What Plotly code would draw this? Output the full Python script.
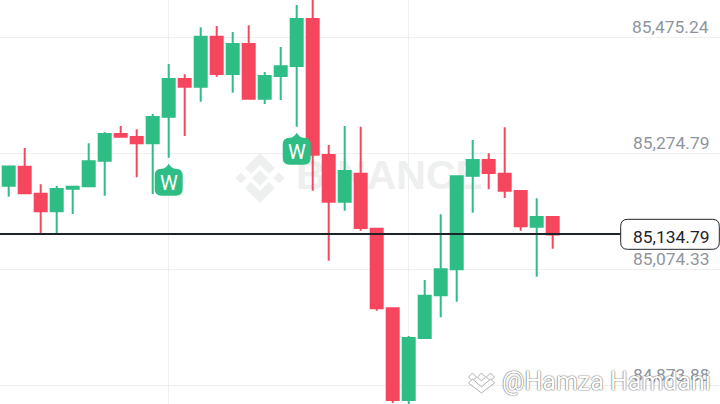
import plotly.graph_objects as go

candle_index = list(range(35))
open_prices = [85218.3,85251.1,85204.5,85174.1,85213.1,85217.3,85261.5,85307.6,85302.5,85291.6,85337.5,85402.7,85389.4,85475.8,85411.3,85463.2,85368.6,85407.9,85425.2,85506.4,85271.4,85190.7,85239.0,85144.0,85006.5,84848.0,84955.1,85028.9,85073.8,85235.6,85262.7,85239.0,85209.2,85147.5,85164.2]
high_prices = [85252.4,85283.5,85220.7,85217.8,85216.6,85291.6,85310.6,85321.5,85315.8,85342.2,85428.6,85410.8,85492.0,85494.3,85483.9,85495.5,85414.8,85458.0,85530.6,85565.1,85288.6,85321.5,85320.3,85144.5,85007.0,84958.6,85055.4,85168.9,85235.1,85297.3,85274.3,85319.2,85209.6,85196.5,85164.6]
low_prices = [85199.3,85204.8,85134.8,85134.8,85169.4,85217.0,85201.0,85302.6,85232.8,85204.0,85266.7,85304.2,85363.5,85406.7,85379.0,85368.2,85359.5,85366.4,85320.3,85209.7,85088.7,85175.1,85140.6,85002.3,84842.8,84839.0,84954.8,84990.9,85017.9,85171.7,85212.1,85197.1,85140.6,85061.1,85109.5]
close_prices = [85251.5,85205.2,85174.1,85212.6,85216.4,85260.5,85307.6,85303.0,85291.6,85337.0,85402.7,85389.4,85475.8,85411.3,85463.2,85368.6,85407.9,85424.6,85506.4,85271.9,85190.7,85243.7,85145.2,85006.5,84848.0,84955.1,85028.2,85073.8,85234.6,85262.7,85240.3,85209.7,85148.2,85164.2,85134.0]

grid_prices = [85475.24, 85274.79, 85074.33, 84873.88]
grid_labels = ["85,475.24", "85,274.79", "85,074.33", "84,873.88"]
vertical_grid = [10, 25]
current_price = 85134.79
current_label = "85,134.79"
badge_candles = [10, 18]
badge_label = "W"

W, H = 720, 404
GREEN, RED = "#2ebd85", "#f6465d"
GRID, WM = "#efefef", "#eeefef"
xr = [-8.7 / 16, (W - 8.7) / 16]
yr = [84841.1, 85539.2]


def up(y):  # pixel shapes measure upward from their anchor
    return -y


fig = go.Figure()
fig.add_trace(go.Scatter(x=[23.8], y=[85229.5], mode="text", text=["BINANCE"],
                         textfont=dict(family="Liberation Sans", size=41, color=WM, weight="bold"),
                         textposition="middle center", hoverinfo="skip", showlegend=False))
fig.add_trace(go.Candlestick(x=candle_index, open=open_prices, high=high_prices, low=low_prices,
                             close=close_prices, yaxis="y2", whiskerwidth=0,
                             increasing=dict(line=dict(color=GREEN, width=2), fillcolor=GREEN),
                             decreasing=dict(line=dict(color=RED, width=2), fillcolor=RED),
                             showlegend=False))

shapes = []
# Binance logo behind candles
logo_parts = [
    "M 0 -8 L 8 0 L 0 8 L -8 0 Z",
    "M -19 -5.5 L -13.5 0 L -19 5.5 L -24.5 0 Z",
    "M 19 -5.5 L 24.5 0 L 19 5.5 L 13.5 0 Z",
    "M 0 -25 L 15 -10 L 9 -4 L 0 -13 L -9 -4 L -15 -10 Z",
    "M 0 25 L 15 10 L 9 4 L 0 13 L -9 4 L -15 10 Z",
]
for part in logo_parts:
    toks = part.split()
    out, i = [], 0
    while i < len(toks):
        if toks[i] in "MLZ":
            out.append(toks[i])
            i += 1
            if out[-1] != "Z":
                out += [toks[i], str(up(float(toks[i + 1])))]
                i += 2
    shapes.append(dict(type="path", layer="below", xref="x", yref="y", xsizemode="pixel", ysizemode="pixel",
                       xanchor=15.7, yanchor=85231.6, path=" ".join(out), fillcolor=WM, line=dict(width=0)))

# price line
shapes.append(dict(type="line", xref="x", yref="y", x0=xr[0], x1=(620.7 - 8.7) / 16, y0=current_price, y1=current_price,
                   line=dict(color="#1e2329", width=2), layer="above"))


def fx(p):
    return p / W


def fy(p):
    return 1 - p / H


l, r, t, b, rad = 620.7, 719.3, 219.3, 249.3, 7
box = (f"M {fx(l+rad)} {fy(t)} L {fx(r-rad)} {fy(t)} Q {fx(r)} {fy(t)} {fx(r)} {fy(t+rad)} "
       f"L {fx(r)} {fy(b-rad)} Q {fx(r)} {fy(b)} {fx(r-rad)} {fy(b)} L {fx(l+rad)} {fy(b)} "
       f"Q {fx(l)} {fy(b)} {fx(l)} {fy(b-rad)} L {fx(l)} {fy(t+rad)} Q {fx(l)} {fy(t)} {fx(l+rad)} {fy(t)} Z")
shapes.append(dict(type="path", xref="paper", yref="paper", path=box, fillcolor="white",
                   line=dict(color="#1e2329", width=1), layer="above"))

# badges
badge = (f"M 0 {up(6)} Q 3 {up(11)} 7 {up(11)} Q 14 {up(11)} 14 {up(18)} L 14 {up(31)} Q 14 {up(38)} 7 {up(38)} "
         f"L -7 {up(38)} Q -14 {up(38)} -14 {up(31)} L -14 {up(18)} Q -14 {up(11)} -7 {up(11)} Q -3 {up(11)} 0 {up(6)} Z")
for c in badge_candles:
    shapes.append(dict(type="path", xref="x", yref="y", xsizemode="pixel", ysizemode="pixel", xanchor=c,
                       yanchor=low_prices[c], path=badge, fillcolor=GREEN, line=dict(width=0), layer="above"))

# small uploader mark
mark_parts = [
    f"M -13 {up(-4)} L -9 {up(-8)} L -5 {up(-4)} L -9 {up(0)} Z",
    f"M -4 {up(-4)} L 0 {up(-8)} L 4 {up(-4)} L 0 {up(0)} Z",
    f"M 5 {up(-4)} L 9 {up(-8)} L 13 {up(-4)} L 9 {up(0)} Z",
    f"M -13 {up(2)} L -9 {up(-2)} L 0 {up(6)} L 9 {up(-2)} L 13 {up(2)} L 0 {up(12)} Z",
]
for part in mark_parts:
    shapes.append(dict(type="path", xref="paper", yref="paper", xsizemode="pixel", ysizemode="pixel",
                       xanchor=481.5 / W, yanchor=fy(381), path=part, fillcolor="white",
                       line=dict(color="#9a9a9a", width=0.8), layer="above"))

ann = []
for p, lab in zip(grid_prices, grid_labels):
    ann.append(dict(x=710.5 / W, xref="paper", y=p, yref="y", yshift=10, text=lab, showarrow=False, xanchor="right",
                    yanchor="middle", font=dict(family="Roboto", size=17.4, color="#8f959e")))
ann.append(dict(x=710.5 / W, xref="paper", y=current_price, yref="y", yshift=-3, text=current_label, showarrow=False,
                xanchor="right", yanchor="middle", font=dict(family="Roboto", size=17.4, color="#1e2329")))
for c in badge_candles:
    ann.append(dict(x=c, xref="x", y=low_prices[c], yref="y", yshift=-25, text=badge_label, showarrow=False,
                    font=dict(family="Roboto", size=20, color="white")))
ann.append(dict(x=712.5 / W, xref="paper", y=fy(381), yref="paper", text="@Hamza Hamdani", showarrow=False,
                xanchor="right", yanchor="middle",
                font=dict(family="Roboto", size=25, color="white", shadow="0 0 1.5px #555, 0 0 1px #777")))

fig.update_layout(
    width=W, height=H, margin=dict(l=0, r=0, t=0, b=0), paper_bgcolor="white", plot_bgcolor="white",
    showlegend=False, boxgap=0.25, boxgroupgap=0, boxmode="overlay", shapes=shapes, annotations=ann,
    xaxis=dict(range=xr, tickvals=vertical_grid, showticklabels=False, ticks="", gridcolor=GRID, gridwidth=1,
               showgrid=True, zeroline=False, rangeslider=dict(visible=False), showline=False),
    yaxis=dict(range=yr, tickvals=grid_prices, showticklabels=False, ticks="", gridcolor=GRID, gridwidth=1,
               showgrid=True, zeroline=False, showline=False),
    yaxis2=dict(range=yr, overlaying="y", side="right", showgrid=False, showticklabels=False, ticks="",
                zeroline=False, showline=False),
)
fig.write_html("out.html", config=dict(displayModeBar=False),
               post_script="document.body.style.margin='0';document.documentElement.style.overflow='hidden';")
